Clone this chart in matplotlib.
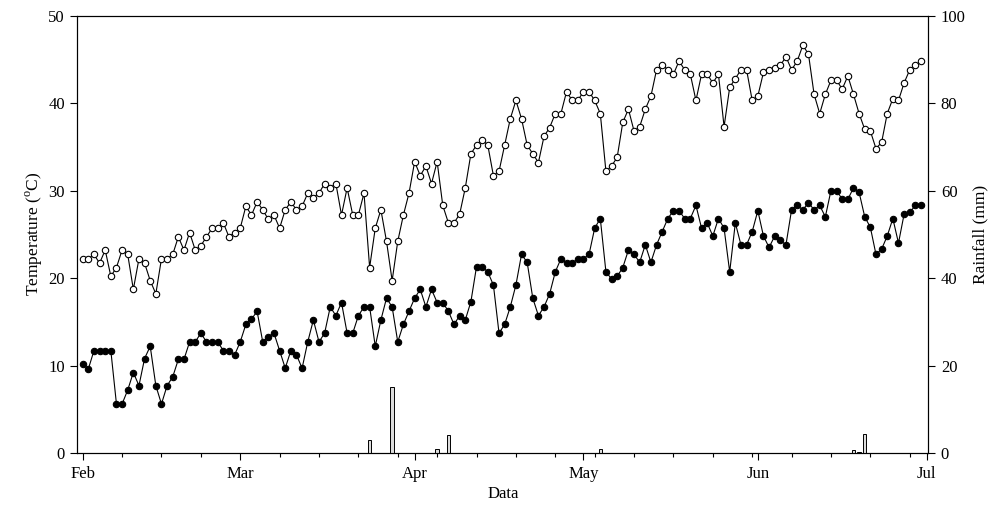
import matplotlib
matplotlib.use("Agg")
import matplotlib.pyplot as plt
import matplotlib.dates as mdates
import numpy as np
import pandas as pd

plt.rcParams['font.family'] = ['Liberation Serif', 'DejaVu Serif']
plt.rcParams['mathtext.fontset'] = 'custom'
plt.rcParams['mathtext.rm'] = 'Liberation Serif'
plt.rcParams['font.size'] = 12

# daily values, 1 Feb .. 30 Jun
start = pd.Timestamp('2013-02-01')
tmax = [22.2, 22.2, 22.7, 21.7, 23.2, 20.2, 21.2, 23.2, 22.7, 18.7,
        22.2, 21.7, 19.7, 18.2, 22.2, 22.2, 22.7, 24.7, 23.2, 25.2,
        23.2, 23.7, 24.7, 25.7, 25.7, 26.3, 24.7, 25.2, 25.7, 28.2,
        27.2, 28.7, 27.8, 26.7, 27.2, 25.7, 27.8, 28.7, 27.8, 28.2,
        29.7, 29.2, 29.7, 30.8, 30.3, 30.8, 27.2, 30.3, 27.2, 27.2,
        29.7, 21.2, 25.7, 27.8, 24.2, 19.7, 24.2, 27.2, 29.7, 33.3,
        31.7, 32.8, 30.8, 33.3, 28.3, 26.3, 26.3, 27.3, 30.3, 34.2,
        35.2, 35.8, 35.2, 31.7, 32.2, 35.2, 38.2, 40.3, 38.2, 35.2,
        34.2, 33.2, 36.2, 37.2, 38.8, 38.8, 41.3, 40.3, 40.3, 41.3,
        41.3, 40.3, 38.8, 32.2, 32.8, 33.8, 37.8, 39.3, 36.8, 37.3,
        39.3, 40.8, 43.8, 44.4, 43.8, 43.3, 44.8, 43.8, 43.3, 40.3,
        43.3, 43.3, 42.3, 43.3, 37.3, 41.8, 42.8, 43.8, 43.8, 40.3,
        40.8, 43.5, 43.8, 44.0, 44.3, 45.3, 43.8, 44.8, 46.6, 45.6,
        41.0, 38.8, 41.0, 42.6, 42.6, 41.6, 43.1, 41.0, 38.8, 37.0,
        36.8, 34.8, 35.5, 38.8, 40.5, 40.3, 42.3, 43.8, 44.3, 44.8]
tmin = [10.2, 9.6, 11.7, 11.7, 11.7, 11.7, 5.6, 5.6, 7.2, 9.2,
        7.7, 10.8, 12.2, 7.7, 5.6, 7.7, 8.7, 10.7, 10.7, 12.7,
        12.7, 13.7, 12.7, 12.7, 12.7, 11.7, 11.7, 11.2, 12.7, 14.7,
        15.3, 16.2, 12.7, 13.3, 13.7, 11.7, 9.7, 11.7, 11.2, 9.7,
        12.7, 15.2, 12.7, 13.7, 16.7, 15.7, 17.2, 13.7, 13.7, 15.7,
        16.7, 16.7, 12.2, 15.2, 17.7, 16.7, 12.7, 14.7, 16.2, 17.7,
        18.7, 16.7, 18.7, 17.2, 17.2, 16.2, 14.7, 15.7, 15.2, 17.3,
        21.3, 21.3, 20.7, 19.2, 13.7, 14.7, 16.7, 19.2, 22.7, 21.8,
        17.7, 15.7, 16.7, 18.2, 20.7, 22.2, 21.7, 21.7, 22.2, 22.2,
        22.7, 25.7, 26.8, 20.7, 19.9, 20.2, 21.2, 23.2, 22.7, 21.8,
        23.8, 21.8, 23.8, 25.3, 26.8, 27.7, 27.7, 26.8, 26.8, 28.3,
        25.7, 26.3, 24.8, 26.8, 25.7, 20.7, 26.3, 23.8, 23.8, 25.3,
        27.7, 24.8, 23.5, 24.8, 24.3, 23.8, 27.8, 28.3, 27.8, 28.6,
        27.8, 28.3, 27.0, 30.0, 30.0, 29.0, 29.0, 30.3, 29.8, 27.0,
        25.8, 22.7, 23.3, 24.8, 26.8, 24.0, 27.3, 27.5, 28.3, 28.3]
rain_dates = ['2013-03-24', '2013-03-28', '2013-04-05', '2013-04-07',
              '2013-05-04', '2013-06-18', '2013-06-19', '2013-06-20']
rain = [3.0, 15.1, 1.0, 4.2, 1.0, 0.7, 0.3, 4.3]

days = pd.date_range(start, periods=len(tmax), freq='D')

fig = plt.figure(figsize=(10, 5.11), dpi=100)
ax = fig.add_axes([0.0773, 0.1135, 0.851, 0.856])
ax2 = ax.twinx()

ax.plot(days, tmax, '-o', color='black', lw=0.8, ms=4.6, mfc='white',
        mec='black', mew=0.8, zorder=3)
ax.plot(days, tmin, '-o', color='black', lw=0.8, ms=4.6, mfc='black',
        mec='black', mew=0.8, zorder=3)
ax2.bar(pd.to_datetime(rain_dates), rain, width=0.6, color='#dcdcdc',
        edgecolor='black', linewidth=0.7)

ax.set_xlim(start - pd.Timedelta(days=0.96), start + pd.Timedelta(days=150.3))
ax.set_ylim(0, 50)
ax2.set_ylim(0, 100)
ax.set_yticks(np.arange(0, 51, 10))
ax2.set_yticks(np.arange(0, 101, 20))

ax.xaxis.set_major_locator(mdates.MonthLocator())
ax.xaxis.set_major_formatter(mdates.DateFormatter('%b'))
ax.set_xticks(pd.date_range(start, periods=22, freq='7D'), minor=True)

ax.tick_params(which='major', direction='out', length=5, width=0.8, pad=4)
ax.tick_params(axis='x', which='minor', direction='out', length=3, width=0.8)
ax2.tick_params(direction='out', length=5, width=0.8, pad=4)

ax.set_xlabel('Data', labelpad=3)
ax.set_ylabel(r'Temperature ($^{\rm o}$C)', labelpad=2, fontsize=12.5)
ax2.set_ylabel('Rainfall (mm)', labelpad=5, fontsize=12.5)

for a in (ax, ax2):
    for s in a.spines.values():
        s.set_linewidth(0.8)

fig.savefig('out.png', dpi=100)
